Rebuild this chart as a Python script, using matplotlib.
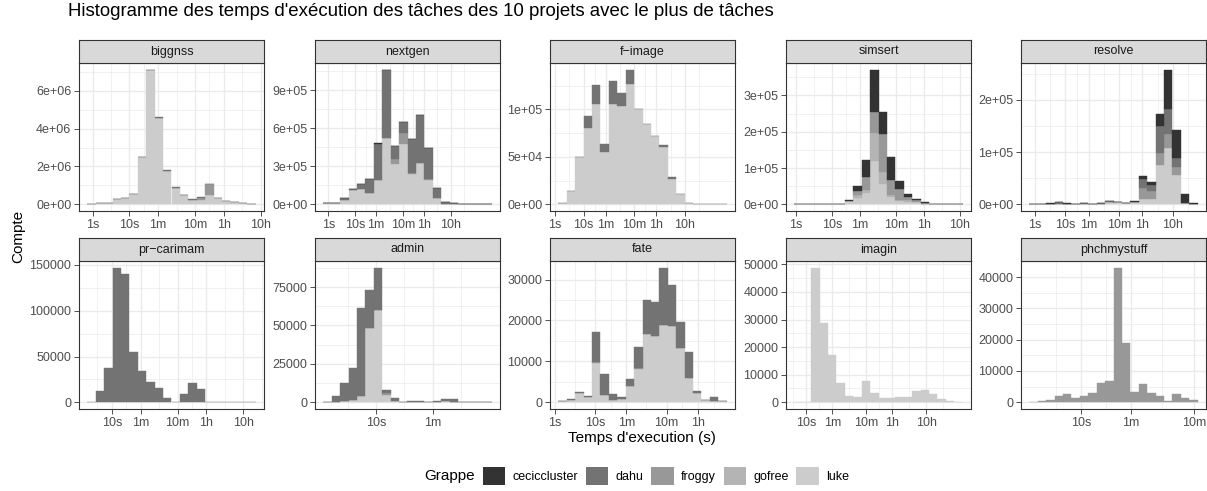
import numpy as np
import matplotlib.pyplot as plt
from matplotlib.patches import Patch

plt.rcParams['font.family'] = ['Liberation Sans', 'DejaVu Sans']

clusters = ['ceciccluster', 'dahu', 'froggy', 'gofree', 'luke']
cluster_colors = ['#333333', '#737373', '#989898', '#B4B4B4', '#CCCCCC']

projects = ['biggnss', 'nextgen', 'f-image', 'simsert', 'resolve',
            'pr-carimam', 'admin', 'fate', 'imagin', 'phchmystuff']

# log10(seconds) span covered by the 20 histogram bins of each project
time_span = {
    'biggnss': (-0.138, 4.42),
    'nextgen': (-0.19, 6.09),
    'f-image': (0.119, 6.02),
    'simsert': (-0.045, 4.63),
    'resolve': (-0.185, 5.38),
    'pr-carimam': (0.34, 4.89),
    'admin': (0.277, 2.59),
    'fate': (0.09, 4.27),
    'imagin': (0.657, 5.63),
    'phchmystuff': (0.19, 2.83),
}

# counts per bin, in thousands of tasks
biggnss_luke = [20, 80, 80, 260, 330, 520, 2500, 7070, 4570, 1780, 880, 500, 250, 250, 500, 330, 170, 120, 70, 30]
biggnss_froggy = [0, 0, 0, 0, 0, 0, 0, 0, 0, 0, 0, 0, 0, 100, 580, 0, 0, 0, 0, 0]
biggnss_dahu = [0, 0, 0, 0, 0, 0, 0, 40, 30, 20, 20, 0, 10, 20, 0, 0, 0, 0, 0, 0]

nextgen_luke = [8, 10, 30, 110, 117, 90, 190, 520, 320, 474, 240, 324, 190, 47, 5, 5, 3, 3, 3, 3]
nextgen_froggy = [0, 0, 0, 0, 0, 0, 0, 0, 40, 90, 10, 0, 10, 0, 0, 0, 0, 0, 0, 0]
nextgen_dahu = [0, 0, 20, 7, 46, 110, 285, 535, 96, 86, 263, 376, 240, 85, 10, 5, 0, 0, 0, 0]
nextgen_ceci = [0, 0, 2, 0, 0, 0, 5, 5, 0, 0, 0, 5, 0, 0, 3, 0, 0, 0, 0, 0]

fimage_luke = [1, 14, 49.5, 80, 106, 55, 106, 103, 126.6, 100, 85, 71.6, 59.9, 26.3, 10.4, 1, 0.8, 0.6, 0.3, 0.2]
fimage_dahu = [0, 0, 0, 12.7, 19.6, 8.7, 23.5, 14, 15, 0, 0, 0, 2.7, 2.7, 0, 0, 0, 0, 0, 0]

simsert_luke = [0.3, 0.3, 0.3, 0.3, 0.3, 0.3, 8, 17, 30, 120, 55, 19, 10, 6, 5.5, 2, 1, 1, 0.5, 0.3]
simsert_gofree = [0, 0, 0, 0, 0, 0, 2, 9, 10, 76, 35, 6, 3, 5, 0, 0, 0, 0, 0, 0]
simsert_froggy = [0, 0, 0, 0, 0, 0, 0, 11, 36, 58, 105, 42, 28, 9, 7, 1, 0, 1, 0, 0]
simsert_ceci = [0, 0, 0, 0, 0, 0, 2, 13, 46, 117, 60, 63, 24, 7, 3, 2, 1, 0, 0, 0]

resolve_luke = [0.5, 0.5, 0, 0, 0, 0.5, 1, 0.5, 1, 4, 4.5, 2, 4, 10, 11, 75.5, 108.6, 56.5, 2, 0]
resolve_froggy = [0, 0, 0, 0, 0, 0, 0, 0, 0, 0, 0, 0, 0, 22, 15, 23.5, 25, 15, 0, 0]
resolve_dahu = [0, 0, 0, 5, 0.5, 0, 0.5, 0, 0.5, 2, 0, 0, 1, 17, 11, 51, 48, 16.5, 0, 0]
resolve_ceci = [0, 0, 1.5, 0, 2, 0, 0, 0, 0, 0, 0, 0, 1.5, 5, 6, 22, 76, 55, 17, 2]

prcarimam_dahu = [0.5, 12.7, 37, 147, 140, 54.6, 34, 22.6, 15.3, 4.4, 0.5, 8.7, 20.8, 14.6, 0.3, 0.3, 0.3, 0.3, 0.3, 0.3]

admin_luke = [0, 0, 1, 1.5, 4, 48.5, 60.3, 4.8, 1, 0.3, 0.5, 0, 0.3, 0, 1, 0, 0.5, 0.5, 0.5, 0.5]
admin_froggy = [0, 0, 0, 0, 0, 0, 0, 1, 0, 0, 0, 0, 0, 0, 0, 0, 0, 0, 0, 0]
admin_dahu = [0.5, 4.3, 11.4, 20.5, 57.6, 24.8, 27.3, 2.2, 1.6, 0, 0.5, 1, 0, 0.8, 1, 2, 0, 0, 0, 0]

fate_luke = [0.2, 0.5, 2.3, 1.4, 9.7, 1.7, 0.5, 0.7, 4.1, 8.2, 16.8, 16.3, 18.8, 18.7, 13.2, 5.9, 2.2, 0.5, 0.4, 0.2]
fate_froggy = [0, 0, 0, 0, 0.2, 0, 0, 0, 0, 0.2, 0, 0, 0, 0, 0, 0, 0, 0, 0, 0]
fate_dahu = [0, 0.2, 0.3, 0.2, 7.2, 5.1, 1.5, 0.7, 1.7, 5.2, 8.3, 8.1, 14.1, 9.9, 6.5, 6.5, 0.6, 0, 1.0, 0]

imagin_luke = [0.2, 0.2, 48.8, 28.9, 17, 6.9, 2.4, 1.8, 7.6, 3.3, 1.4, 1.4, 1.9, 1.9, 4.1, 4.3, 3.1, 1.1, 0.4, 0.1]

phchmystuff_froggy = [0.1, 0.3, 0.6, 2.1, 2.6, 1.3, 2.1, 2.9, 6.0, 6.7, 43, 18.8, 3.4, 5.7, 2.9, 2.1, 0.4, 2.5, 1.4, 0.6]

counts = {
    'biggnss': {'luke': biggnss_luke, 'froggy': biggnss_froggy, 'dahu': biggnss_dahu},
    'nextgen': {'luke': nextgen_luke, 'froggy': nextgen_froggy, 'dahu': nextgen_dahu, 'ceciccluster': nextgen_ceci},
    'f-image': {'luke': fimage_luke, 'dahu': fimage_dahu},
    'simsert': {'luke': simsert_luke, 'gofree': simsert_gofree, 'froggy': simsert_froggy, 'ceciccluster': simsert_ceci},
    'resolve': {'luke': resolve_luke, 'froggy': resolve_froggy, 'dahu': resolve_dahu, 'ceciccluster': resolve_ceci},
    'pr-carimam': {'dahu': prcarimam_dahu},
    'admin': {'luke': admin_luke, 'froggy': admin_froggy, 'dahu': admin_dahu},
    'fate': {'luke': fate_luke, 'froggy': fate_froggy, 'dahu': fate_dahu},
    'imagin': {'luke': imagin_luke},
    'phchmystuff': {'froggy': phchmystuff_froggy},
}

y_ticks = {
    'biggnss': [0, 2e6, 4e6, 6e6],
    'nextgen': [0, 3e5, 6e5, 9e5],
    'f-image': [0, 5e4, 1e5],
    'simsert': [0, 1e5, 2e5, 3e5],
    'resolve': [0, 1e5, 2e5],
    'pr-carimam': [0, 50000, 100000, 150000],
    'admin': [0, 25000, 50000, 75000],
    'fate': [0, 10000, 20000, 30000],
    'imagin': [0, 10000, 20000, 30000, 40000, 50000],
    'phchmystuff': [0, 10000, 20000, 30000, 40000],
}
sci_labels = ['biggnss', 'nextgen', 'f-image', 'simsert', 'resolve']

x_breaks = np.log10([1, 10, 60, 600, 3600, 36000])
x_labels = ['1s', '10s', '1m', '10m', '1h', '10h']

W, H = 1207, 491
fig = plt.figure(figsize=(W / 100, H / 100), dpi=100)

col_left = [79, 315, 550, 786, 1021]
strip_top = [40, 238]
panel_w, strip_h, panel_h = 185, 23, 148
grid_col = '#EBEBEB'
frame_col = '#333333'


def minor_breaks(major, lo, hi):
    b = [m for m in major if lo <= m <= hi]
    if len(b) < 2:
        return []
    mids = [(b[k] + b[k + 1]) / 2 for k in range(len(b) - 1)]
    mids = [b[0] - (b[1] - b[0]) / 2] + mids + [b[-1] + (b[-1] - b[-2]) / 2]
    return [m for m in mids if lo <= m <= hi]


for i, proj in enumerate(projects):
    r, c = divmod(i, 5)
    x0 = col_left[c]
    top = strip_top[r]
    ax = fig.add_axes([x0 / W, 1 - (top + strip_h + panel_h) / H, panel_w / W, panel_h / H])
    sax = fig.add_axes([x0 / W, 1 - (top + strip_h) / H, panel_w / W, strip_h / H])

    lo, hi = time_span[proj]
    edges = np.linspace(lo, hi, 21)
    width = edges[1] - edges[0]
    bottom = np.zeros(20)
    for cl, colr in list(zip(clusters, cluster_colors))[::-1]:
        if cl not in counts[proj]:
            continue
        vals = np.array(counts[proj][cl], dtype=float) * 1000
        ax.bar(edges[:-1], vals, width=width, bottom=bottom, align='edge',
               color=colr, edgecolor=colr, linewidth=0.3, zorder=2)
        bottom += vals

    span = hi - lo
    xlim = (lo - 0.05 * span, hi + 0.05 * span)
    ymax = bottom.max()
    ylim = (-0.05 * ymax, 1.05 * ymax)
    ax.set_xlim(xlim)
    ax.set_ylim(ylim)

    xt = [(b, l) for b, l in zip(x_breaks, x_labels) if xlim[0] <= b <= xlim[1]]
    ax.set_xticks([b for b, l in xt])
    ax.set_xticklabels([l for b, l in xt])
    ax.set_xticks(minor_breaks(list(x_breaks), *xlim), minor=True)

    yt = y_ticks[proj]
    ax.set_yticks(yt)
    if proj in sci_labels:
        ax.set_yticklabels([f'{v:.0e}' for v in yt])
    else:
        ax.set_yticklabels([f'{int(v)}' for v in yt])
    ax.set_yticks(minor_breaks(yt, *ylim), minor=True)

    ax.grid(True, which='major', color=grid_col, linewidth=1.0, zorder=0)
    ax.grid(True, which='minor', color=grid_col, linewidth=0.5, zorder=0)
    ax.set_axisbelow(True)
    ax.tick_params(which='major', length=3.5, width=0.6, color=frame_col,
                   labelsize=9, labelcolor='#4D4D4D', pad=2)
    ax.tick_params(which='minor', length=0)
    for s in ax.spines.values():
        s.set_color(frame_col)
        s.set_linewidth(0.8)

    sax.set_facecolor('#D9D9D9')
    sax.set_xticks([])
    sax.set_yticks([])
    for s in sax.spines.values():
        s.set_color(frame_col)
        s.set_linewidth(0.8)
    sax.text(0.5, 0.5, proj.replace('-', '\u2212'), ha='center', va='center',
             fontsize=9, color='#1A1A1A', transform=sax.transAxes)

fig.text(68 / W, 1 - 11 / H,
         "Histogramme des temps d'exécution des tâches des 10 projets avec le plus de tâches",
         ha='left', va='center', fontsize=13.4, color='black')
fig.text(18 / W, 1 - 236 / H, 'Compte', rotation=90, ha='center', va='center', fontsize=11)
fig.text(642 / W, 1 - 438 / H, "Temps d'execution (s)", ha='center', va='center', fontsize=11)

handles = [Patch(facecolor=col, edgecolor='none', label=cl) for cl, col in zip(clusters, cluster_colors)]
fig.text(450 / W, 1 - 476 / H, 'Grappe', ha='center', va='center', fontsize=11)
fig.legend(handles=handles, loc='center', bbox_to_anchor=(666 / W, 1 - 476 / H),
           ncol=5, frameon=False, fontsize=9, handlelength=1.8, handleheight=1.8,
           handletextpad=0.6, columnspacing=0.6, borderpad=0)

fig.savefig('out.png', dpi=100)
